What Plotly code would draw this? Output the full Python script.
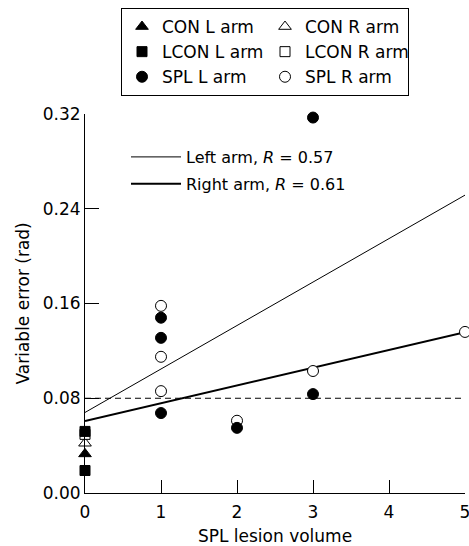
import plotly.graph_objects as go

# ---- data ----
con_l_x = [0]
con_l_y = [0.033]
con_r_x = [0]
con_r_y = [0.042]
lcon_l_x = [0, 0]
lcon_l_y = [0.052, 0.019]
lcon_r_x = [0]
lcon_r_y = [0.0495]
spl_l_x = [1, 1, 1, 2, 3, 3]
spl_l_y = [0.148, 0.131, 0.0675, 0.055, 0.0835, 0.317]
spl_r_x = [1, 1, 1, 2, 3, 5]
spl_r_y = [0.158, 0.115, 0.086, 0.061, 0.103, 0.136]

fit_x = [0, 5]
left_fit = {"intercept": 0.068, "slope": 0.0367, "R": "0.57"}
right_fit = {"intercept": 0.0608, "slope": 0.0150, "R": "0.61"}
threshold = 0.08

x_ticks = [0, 1, 2, 3, 4, 5]
y_ticks = [0.00, 0.08, 0.16, 0.24, 0.32]
y_tick_labels = ["0.00", "0.08", "0.16", "0.24", "0.32"]
x_title = "SPL lesion volume"
y_title = "Variable error (rad)"

FONT = "DejaVu Sans"
fig = go.Figure()

def fit_y(f):
    return [f["intercept"] + f["slope"] * x for x in fit_x]

# threshold dashed line
fig.add_trace(go.Scatter(x=fit_x, y=[threshold, threshold], mode="lines",
                         line=dict(color="black", width=1, dash="6px,4px"),
                         showlegend=False, hoverinfo="skip"))
# fit lines
fig.add_trace(go.Scatter(x=fit_x, y=fit_y(left_fit), mode="lines",
                         line=dict(color="black", width=1),
                         name="Left arm, <i>R</i> = " + left_fit["R"],
                         legend="legend2", legendrank=1, legendgroup="a"))
fig.add_trace(go.Scatter(x=fit_x, y=fit_y(right_fit), mode="lines",
                         line=dict(color="black", width=2),
                         name="Right arm, <i>R</i> = " + right_fit["R"],
                         legend="legend2", legendrank=2, legendgroup="b"))

def pts(x, y, name, symbol, rank, size=10):
    open_ = "open" in symbol
    fig.add_trace(go.Scatter(
        x=x, y=y, mode="markers", name=name, legendrank=rank,
        cliponaxis=False,
        marker=dict(symbol=symbol.replace("-open", ""), size=size,
                    color="white" if open_ else "black",
                    line=dict(color="black", width=1))))

pts(spl_r_x, spl_r_y, "SPL R arm", "circle-open", 6, 11)
pts(spl_l_x, spl_l_y, "SPL L arm", "circle", 5, 11)
pts(con_r_x, con_r_y, "CON R arm", "triangle-up-open", 2, 11)
pts(con_l_x, con_l_y, "CON L arm", "triangle-up", 1, 11)
pts(lcon_r_x, lcon_r_y, "LCON R arm", "square-open", 4, 10)
pts(lcon_l_x, lcon_l_y, "LCON L arm", "square", 3, 10)

fig.update_layout(
    width=469, height=546,
    margin=dict(l=85, r=4, t=114, b=53, autoexpand=False),
    plot_bgcolor="white", paper_bgcolor="white",
    font=dict(family=FONT, size=16, color="black"),
    legend=dict(orientation="h", xref="container", yref="container",
                x=121 / 469, y=1 - 8 / 546, xanchor="left", yanchor="top",
                entrywidth=98, traceorder="normal",
                bordercolor="black", borderwidth=1, bgcolor="white",
                font=dict(family=FONT, size=17)),
    legend2=dict(orientation="v", xref="container", yref="container",
                 x=126 / 469, y=1 - 140 / 546, xanchor="left", yanchor="top",
                 itemwidth=50, tracegroupgap=3,
                 bgcolor="rgba(0,0,0,0)", borderwidth=0,
                 font=dict(family=FONT, size=16)),
    xaxis=dict(range=[0, 5], tickvals=x_ticks, ticks="inside", ticklen=13,
               tickcolor="black", showline=True, linecolor="black", linewidth=1,
               showgrid=False, zeroline=False, ticklabeloverflow="allow",
               ticklabelstandoff=4, tickfont=dict(size=17),
               title=dict(text=x_title, standoff=10, font=dict(size=17))),
    yaxis=dict(range=[0, 0.32], tickvals=y_ticks, ticktext=y_tick_labels,
               ticks="inside", ticklen=14, tickcolor="black",
               showline=True, linecolor="black", linewidth=1,
               showgrid=False, zeroline=False, ticklabeloverflow="allow",
               tickfont=dict(size=17)),
    annotations=[dict(text=y_title, textangle=-90, xref="paper", yref="paper",
                      x=0, y=0.5, xshift=-63, showarrow=False,
                      xanchor="center", yanchor="middle",
                      font=dict(family=FONT, size=17))],
)

fig.write_html("out.html", config={"displayModeBar": False},
               post_script="document.body.style.margin='0px';")
